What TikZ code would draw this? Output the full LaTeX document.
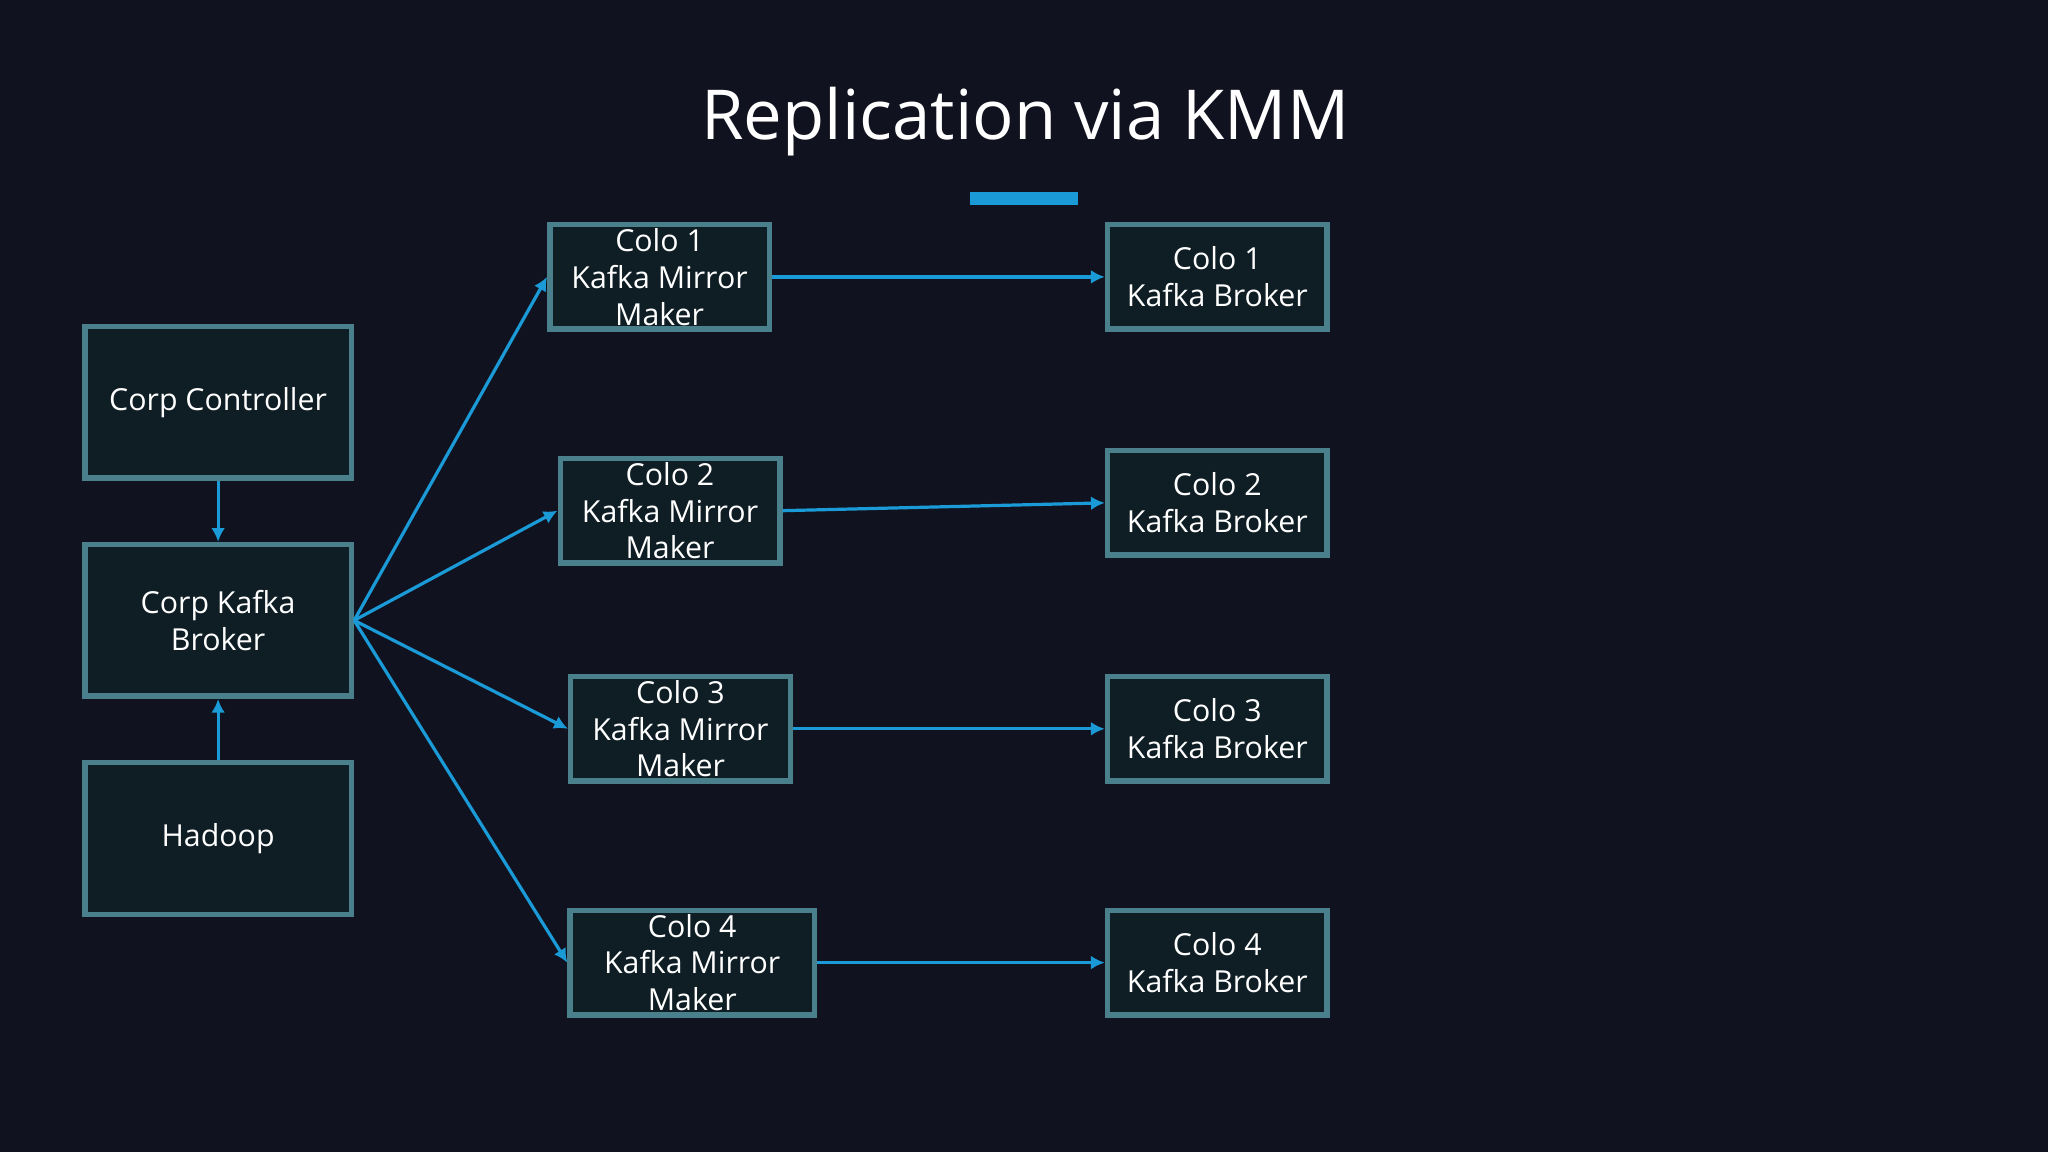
\documentclass[tikz,border=0pt]{standalone}
\usepackage{fontspec}
\setmainfont{Open Sans}
\usetikzlibrary{arrows.meta}
\definecolor{bgdark}{HTML}{11121F}
\definecolor{boxfill}{HTML}{0F1D24}
\definecolor{boxedge}{HTML}{4A7F8C}
\definecolor{linkblue}{HTML}{1A9AD6}
\tikzset{
	box/.style={draw=boxedge,fill=boxfill,line width=1.2pt,text=white,align=center,font=\fontsize{6.6}{8}\selectfont,inner sep=0pt},
	link/.style={draw=linkblue,line width=0.7pt,-{Latex[length=3pt,width=3pt]}}
}
\begin{document}
\begin{tikzpicture}[x=0.01cm,y=-0.01cm]
		\path[fill=bgdark] (0,0) rectangle (1568,882);
		
		\node[text=white,font=\fontsize{15}{18}\selectfont] (title) at (785,93) {Replication via KMM};
		\path[fill=linkblue] (743,147) rectangle (825,157);
		
		\node[box,minimum width=2.04cm,minimum height=1.16cm] (ctrl) at (167,308) {Corp Controller};
		\node[box,minimum width=2.04cm,minimum height=1.16cm] (corp) at (167,475) {Corp Kafka\\Broker};
		\node[box,minimum width=2.04cm,minimum height=1.16cm] (hadoop) at (167,642) {Hadoop};
		
		\node[box,minimum width=1.68cm,minimum height=0.8cm] (mm1) at (505,212) {Colo 1\\Kafka Mirror\\Maker};
		\node[box,minimum width=1.68cm,minimum height=0.8cm] (mm2) at (513,391) {Colo 2\\Kafka Mirror\\Maker};
		\node[box,minimum width=1.68cm,minimum height=0.8cm] (mm3) at (521,558) {Colo 3\\Kafka Mirror\\Maker};
		\node[box,minimum width=1.87cm,minimum height=0.8cm] (mm4) at (530,737) {Colo 4\\Kafka Mirror\\Maker};
		
		\node[box,minimum width=1.68cm,minimum height=0.8cm] (kb1) at (932,212) {Colo 1\\Kafka Broker};
		\node[box,minimum width=1.68cm,minimum height=0.8cm] (kb2) at (932,385) {Colo 2\\Kafka Broker};
		\node[box,minimum width=1.68cm,minimum height=0.8cm] (kb3) at (932,558) {Colo 3\\Kafka Broker};
		\node[box,minimum width=1.68cm,minimum height=0.8cm] (kb4) at (932,737) {Colo 4\\Kafka Broker};
		
		\path[link] (ctrl) -- (corp);
		\path[link] (hadoop) -- (corp);
		\foreach \i in {1,...,4}{
			\path[link] (corp.east) -- (mm\i.west);
			\path[link] (mm\i.east) -- (kb\i.west);
		}
	\end{tikzpicture}
\end{document}
